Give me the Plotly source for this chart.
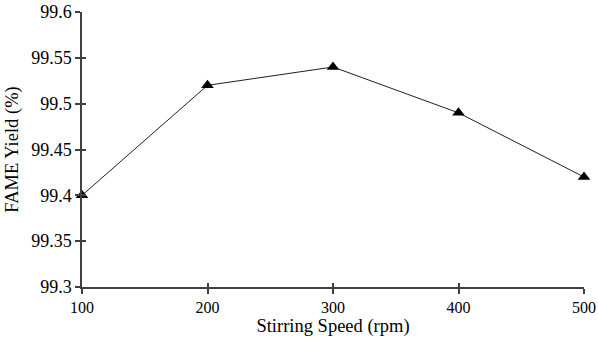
import plotly.graph_objects as go

speed = [100, 200, 300, 400, 500]
yield_pct = [99.40, 99.52, 99.54, 99.49, 99.42]
y_ticks = [99.3, 99.35, 99.4, 99.45, 99.5, 99.55, 99.6]
y_labels = ["99.3", "99.35", "99.4", "99.45", "99.5", "99.55", "99.6"]
x_ticks = [100, 200, 300, 400, 500]

fam = "Liberation Serif, Times New Roman, serif"
xtick_font = dict(family=fam, size=16, color="#000000")
ytick_font = dict(family=fam, size=18, color="#000000")
title_font = dict(family=fam, size=18.5, color="#000000")
axcol = "#404040"

fig = go.Figure()
fig.add_trace(go.Scatter(
    x=speed, y=yield_pct, mode="lines+markers",
    line=dict(color="#202020", width=1),
    marker=dict(symbol="triangle-up", size=11, color="#000000"),
    showlegend=False, cliponaxis=False,
))
# inside ticks overlay to make crossing ticks
fig.add_trace(go.Scatter(x=speed, y=yield_pct, xaxis="x2", yaxis="y2",
                         mode="markers", marker=dict(opacity=0), showlegend=False,
                         hoverinfo="skip"))

fig.update_layout(
    width=598, height=344,
    margin=dict(l=82, r=14, t=12, b=57, autoexpand=False),
    paper_bgcolor="white", plot_bgcolor="white",
    font=dict(family=fam, size=16, color="#000000"),
    xaxis=dict(range=[100, 500], tickvals=x_ticks, ticks="outside", ticklen=5,
               tickwidth=1.5, tickcolor=axcol, showline=True, linecolor=axcol,
               linewidth=1.5, showgrid=False, zeroline=False, automargin=False,
               tickfont=xtick_font,
               title=dict(text="Stirring Speed (rpm)", standoff=4, font=title_font)),
    yaxis=dict(range=[99.3, 99.6], tickvals=y_ticks, ticktext=y_labels,
               ticks="outside", ticklen=5, tickwidth=1.5, tickcolor=axcol,
               showline=True, linecolor=axcol, linewidth=1.5, showgrid=False,
               zeroline=False, automargin=False, tickfont=ytick_font,
               title=dict(text="FAME Yield (%)", standoff=8, font=title_font)),
    xaxis2=dict(overlaying="x", range=[100, 500], tickvals=x_ticks, ticks="inside",
                ticklen=4, tickwidth=1.5, tickcolor=axcol, showticklabels=False,
                showgrid=False, zeroline=False, side="bottom", anchor="y2",
                automargin=False),
    yaxis2=dict(overlaying="y", range=[99.3, 99.6], tickvals=y_ticks, ticks="inside",
                ticklen=4, tickwidth=1.5, tickcolor=axcol, showticklabels=False,
                showgrid=False, zeroline=False, side="left", anchor="x2",
                automargin=False),
)

fig.write_html("out.html", config={"displayModeBar": False},
               post_script="document.body.style.margin='0';")
